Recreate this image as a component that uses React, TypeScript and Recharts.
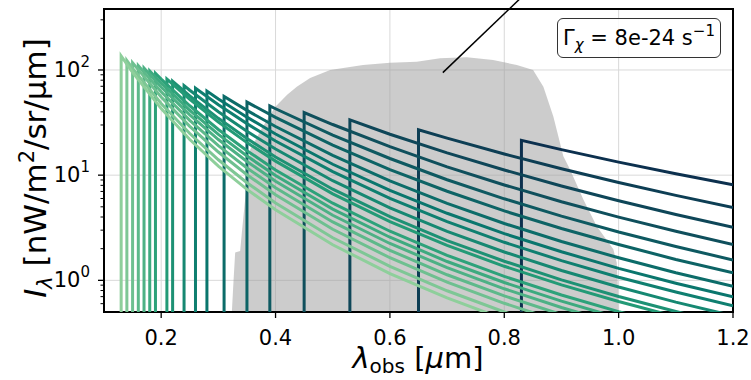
import { Area, CartesianGrid, ComposedChart, Line, ReferenceArea, ReferenceLine, XAxis, YAxis } from 'recharts';

// start wavelength of each decay spectrum [um] and its peak intensity
const lineStarts = [0.13, 0.14, 0.15, 0.16, 0.17, 0.18, 0.19, 0.21, 0.22, 0.24, 0.26, 0.28, 0.31, 0.35, 0.39, 0.45, 0.53, 0.65, 0.83];
const linePeaks = [136, 123, 117, 110, 104, 98, 93, 82, 78, 71, 67, 63, 56, 49.5, 45.5, 39.4, 33.5, 27, 21.4];

// tail values, read on this wavelength grid starting at the first grid point past the start
const tailGrid = [0.15, 0.2, 0.25, 0.3, 0.35, 0.4, 0.5, 0.6, 0.7, 0.8, 0.9, 1.0, 1.1, 1.2];
const lineTails = [
  [94.8, 42.9, 21.8, 12.2, 7.33, 4.68, 2.18, 1.16, 0.68, 0.427],
  [103.6, 48.0, 24.9, 14.0, 8.48, 5.43, 2.54, 1.36, 0.796, 0.5, 0.332],
  [55.4, 29.1, 16.6, 10.1, 6.51, 3.06, 1.64, 0.962, 0.605, 0.402],
  [62.1, 33.2, 19.1, 11.7, 7.58, 3.59, 1.93, 1.13, 0.712, 0.473],
  [68.9, 37.4, 21.8, 13.5, 8.75, 4.16, 2.24, 1.32, 0.831, 0.552, 0.382],
  [75.3, 41.4, 24.4, 15.2, 9.93, 4.76, 2.57, 1.51, 0.954, 0.634, 0.44],
  [81.9, 45.7, 27.2, 17.1, 11.2, 5.41, 2.93, 1.73, 1.09, 0.726, 0.504, 0.361],
  [52.7, 32.0, 20.4, 13.6, 6.64, 3.62, 2.15, 1.36, 0.905, 0.629, 0.451, 0.334],
  [56.6, 34.7, 22.3, 14.9, 7.35, 4.03, 2.39, 1.52, 1.01, 0.703, 0.505, 0.373],
  [64.2, 40.1, 26.1, 17.7, 8.86, 4.89, 2.92, 1.86, 1.24, 0.864, 0.621, 0.46],
  [46.7, 30.9, 21.1, 10.8, 6.01, 3.61, 2.3, 1.54, 1.07, 0.774, 0.572],
  [53.1, 35.6, 24.6, 12.7, 7.18, 4.34, 2.78, 1.87, 1.3, 0.939, 0.696],
  [41.3, 29.0, 15.4, 8.82, 5.39, 3.47, 2.34, 1.64, 1.18, 0.878],
  [35.4, 19.3, 11.3, 7.03, 4.57, 3.11, 2.19, 1.58, 1.18],
  [42.8, 24.0, 14.4, 9.05, 5.96, 4.08, 2.88, 2.1, 1.56],
  [30.3, 18.7, 12.0, 8.07, 5.59, 3.99, 2.93, 2.19],
  [24.5, 16.3, 11.2, 7.89, 5.71, 4.23, 3.2],
  [22.5, 15.9, 11.5, 8.52, 6.42, 4.93],
  [17.5, 13.3, 10.3, 8.08],
];
const lineColors = [
  '#8ecf9b', '#7ec795', '#6ec090', '#5db98a', '#4db185', '#3daa7f', '#2da27a', '#239a76', '#1d9174', '#168872',
  '#0f7f70', '#0a766d', '#0c6c69', '#0d6365', '#0e5961', '#0f4f5c', '#0e4658', '#0d3e54', '#0c304e',
];

// grey filter response outline
const filterLambda = [0.3236, 0.3264, 0.3294, 0.3381, 0.3411, 0.3439, 0.3468, 0.3503, 0.3556, 0.3766, 0.3993, 0.4203, 0.4372, 0.4605, 0.4955, 0.5531, 0.6003, 0.647, 0.6878, 0.7344, 0.7804, 0.8219, 0.8504, 0.8684, 0.8858, 0.9033, 0.915, 0.9383, 0.9617, 0.9907, 0.9967, 0.999, 0.9995];
const filterLevel = [0.5, 0.96, 1.84, 1.9, 2.85, 4.07, 5.85, 8.5, 17.4, 28.3, 44.5, 58, 69.4, 84, 100, 111.5, 117.3, 119.9, 129, 132, 124.5, 111.5, 100, 69.4, 36.1, 15.1, 11.3, 5.86, 3.27, 1.97, 1.47, 0.82, 0.5];

// pointer line from the filter to outside the axes
const pointerX = [0.6925, 0.834];
const pointerY = [94.3, 515];

const xDomain = [0.1, 1.2];
const yDomain = [0.5, 380];
const xTicks = [0.2, 0.4, 0.6, 0.8, 1.0, 1.2];
const yMajorTicks = [1, 10, 100];
const yMinorTicks = [0.6, 0.7, 0.8, 0.9, 2, 3, 4, 5, 6, 7, 8, 9, 20, 30, 40, 50, 60, 70, 80, 90, 200, 300];

const FONT = '"DejaVu Sans", sans-serif';

const series = lineStarts.map((start, i) => {
  const first = tailGrid.findIndex(g => g > start + 1e-9);
  const tail = lineTails[i].map((y, k) => ({ x: tailGrid[first + k], y }));
  return [{ x: start, y: yDomain[0] / 2 }, { x: start, y: linePeaks[i] }, ...tail];
});

const filterData = filterLambda.map((x, i) => ({ x, y: filterLevel[i] }));

function XTick({ x, y, payload }: any) {
  return (
    <g>
      <line x1={x} x2={x} y1={y} y2={y + 6} stroke="#000" strokeWidth={1.3} />
      <text x={x} y={y + 33} textAnchor="middle" fontSize={21} fontFamily={FONT} fill="#000">
        {Number(payload.value).toFixed(1)}
      </text>
    </g>
  );
}

function YTick({ x, y, payload }: any) {
  const major = yMajorTicks.includes(payload.value);
  const exp = Math.round(Math.log10(payload.value));
  return (
    <g>
      <line x1={x - (major ? 6 : 3.5)} x2={x} y1={y} y2={y} stroke="#000" strokeWidth={major ? 1.3 : 1} />
      {major && (
        <text x={x - 14} y={y + 7} textAnchor="end" fontSize={21} fontFamily={FONT} fill="#000">
          10<tspan dy={-10} fontSize={15}>{exp}</tspan>
        </text>
      )}
    </g>
  );
}

export default function App() {
  return (
    <div style={{ position: 'fixed', left: 0, top: 0, width: 751, height: 380, background: '#fff', fontFamily: FONT }}>
      <ComposedChart width={751} height={380} margin={{ top: 9, right: 18, bottom: 0, left: 0 }}>
        <CartesianGrid stroke="#d9d9d9" strokeWidth={1} horizontalValues={yMajorTicks} verticalValues={xTicks} />
        <XAxis
          dataKey="x"
          type="number"
          domain={xDomain}
          ticks={xTicks}
          interval={0}
          allowDataOverflow
          height={68}
          axisLine={false}
          tickLine={false}
          tickSize={0}
          tickMargin={0}
          tick={<XTick />}
        />
        <YAxis
          type="number"
          scale="log"
          domain={yDomain}
          ticks={[...yMinorTicks, ...yMajorTicks].sort((a, b) => a - b)}
          interval={0}
          allowDataOverflow
          width={104}
          axisLine={false}
          tickLine={false}
          tickSize={0}
          tickMargin={0}
          tick={<YTick />}
        />
        <Area
          data={filterData}
          dataKey="y"
          type="linear"
          baseValue={yDomain[0]}
          fill="#999999"
          fillOpacity={0.5}
          stroke="none"
          isAnimationActive={false}
        />
        {series
          .map((data, i) => (
            <Line
              key={`line-${i}`}
              data={data}
              dataKey="y"
              type="linear"
              stroke={lineColors[i]}
              strokeWidth={3}
              dot={false}
              activeDot={false}
              isAnimationActive={false}
            />
          ))
          .reverse()}
        <ReferenceLine
          segment={[{ x: pointerX[0], y: pointerY[0] }, { x: pointerX[1], y: pointerY[1] }]}
          stroke="#000"
          strokeWidth={1.5}
          ifOverflow="visible"
        />
        <ReferenceArea x1={xDomain[0]} x2={xDomain[1]} y1={yDomain[0]} y2={yDomain[1]} fill="none" stroke="#000" strokeWidth={2} />
      </ComposedChart>

      <svg width={751} height={380} style={{ position: 'absolute', left: 0, top: 0, pointerEvents: 'none' }}>
        <text x={418} y={368} textAnchor="middle" fontSize={29} fontFamily={FONT} fill="#000">
          <tspan fontStyle="italic">λ</tspan>
          <tspan fontSize={20} dy={5}>obs</tspan>
          <tspan dy={-5}> [</tspan>
          <tspan fontStyle="italic">μ</tspan>
          <tspan>m]</tspan>
        </text>
        <text transform="translate(46,168) rotate(-90)" textAnchor="middle" fontSize={31} fontFamily={FONT} fill="#000">
          <tspan fontStyle="italic">I</tspan>
          <tspan fontSize={21} fontStyle="italic" dy={6}>λ</tspan>
          <tspan dy={-6}> [nW/m</tspan>
          <tspan fontSize={21} dy={-12}>2</tspan>
          <tspan dy={12}>/sr/μm]</tspan>
        </text>
      </svg>

      <div
        style={{
          position: 'absolute',
          left: 557,
          top: 18,
          width: 164,
          height: 40,
          boxSizing: 'border-box',
          border: '1.3px solid #333',
          borderRadius: 6,
          background: 'rgba(255,255,255,0.85)',
          display: 'flex',
          alignItems: 'center',
          justifyContent: 'center',
          fontSize: 21,
          color: '#000',
          whiteSpace: 'nowrap',
        }}
      >
        <span>
          Γ<sub style={{ fontSize: 15, fontStyle: 'italic', verticalAlign: '-5px' }}>χ</sub> = 8e-24 s
          <sup style={{ fontSize: 15, verticalAlign: '9px' }}>−1</sup>
        </span>
      </div>
    </div>
  );
}
